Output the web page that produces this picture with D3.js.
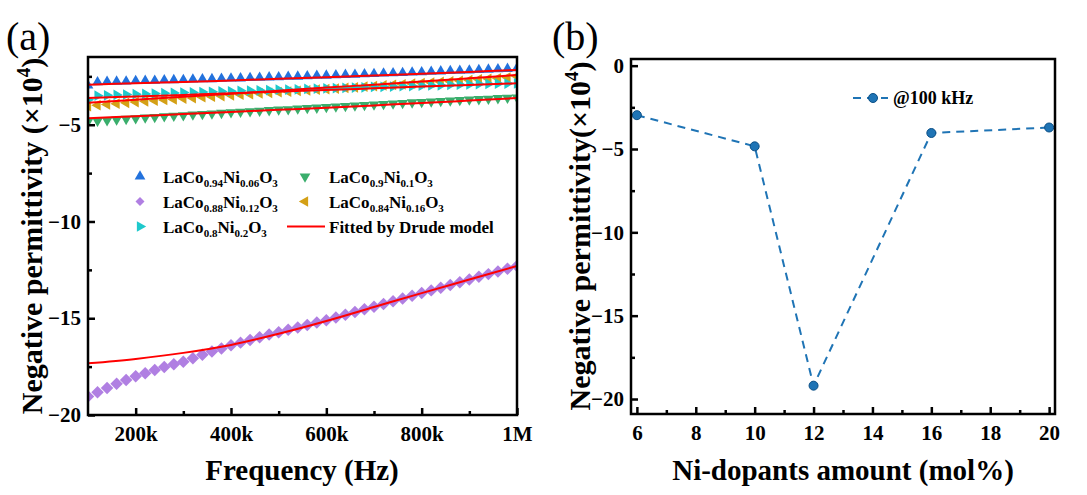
<!DOCTYPE html>
<html>
<head>
<meta charset="utf-8">
<script src="https://cdn.jsdelivr.net/npm/d3@7.9.0/dist/d3.min.js"></script>
<style>
  body { margin: 0; background: #fff; }
  svg text { font-family: "Liberation Serif", "Times New Roman", serif; }
</style>
</head>
<body>
<svg id="chart" width="1087" height="495"></svg>
<script>
// ---- data, panel (a): frequency in kHz, permittivity in 1e4 units
const freq = [100, 120, 140, 160, 180, 200, 220, 240, 260, 280, 300, 320, 340, 360, 380, 400,
  420, 440, 460, 480, 500, 520, 540, 560, 580, 600, 620, 640, 660, 680, 700, 720, 740, 760,
  780, 800, 820, 840, 860, 880, 900, 920, 940, 960, 980, 1000];

const ni006 = [-2.97, -2.80, -2.78, -2.77, -2.76, -2.74, -2.73, -2.72, -2.70, -2.69, -2.68, -2.66,
  -2.65, -2.64, -2.62, -2.61, -2.60, -2.58, -2.57, -2.55, -2.54, -2.52, -2.51, -2.49, -2.47, -2.46,
  -2.44, -2.42, -2.41, -2.39, -2.37, -2.35, -2.34, -2.32, -2.30, -2.28, -2.26, -2.24, -2.22, -2.21,
  -2.19, -2.17, -2.15, -2.13, -2.11, -2.08];
const ni01 = [-4.84, -4.80, -4.77, -4.73, -4.70, -4.67, -4.63, -4.60, -4.57, -4.54, -4.51, -4.48,
  -4.45, -4.42, -4.39, -4.36, -4.33, -4.31, -4.28, -4.25, -4.22, -4.20, -4.17, -4.14, -4.12, -4.09,
  -4.06, -4.04, -4.01, -3.98, -3.96, -3.93, -3.91, -3.88, -3.85, -3.83, -3.80, -3.78, -3.75, -3.73,
  -3.70, -3.68, -3.66, -3.63, -3.61, -3.60];
const ni012 = [-19.05, -18.82, -18.60, -18.39, -18.19, -18.00, -17.84, -17.68, -17.52, -17.38,
  -17.25, -17.07, -16.89, -16.72, -16.56, -16.40, -16.26, -16.12, -15.98, -15.84, -15.72, -15.60,
  -15.48, -15.35, -15.22, -15.10, -14.96, -14.82, -14.68, -14.54, -14.40, -14.26, -14.12, -13.98,
  -13.84, -13.70, -13.56, -13.42, -13.28, -13.14, -13.00, -12.86, -12.72, -12.58, -12.44, -12.30];
const ni016 = [-4.04, -3.99, -3.95, -3.91, -3.87, -3.83, -3.79, -3.76, -3.72, -3.69, -3.65, -3.62,
  -3.58, -3.55, -3.52, -3.48, -3.45, -3.42, -3.38, -3.35, -3.32, -3.29, -3.25, -3.22, -3.19, -3.16,
  -3.13, -3.10, -3.07, -3.03, -3.00, -2.97, -2.94, -2.91, -2.88, -2.85, -2.82, -2.79, -2.76, -2.73,
  -2.70, -2.66, -2.63, -2.60, -2.56, -2.50];
const ni02 = [-3.71, -3.50, -3.48, -3.46, -3.44, -3.42, -3.41, -3.39, -3.37, -3.36, -3.34, -3.33,
  -3.31, -3.30, -3.28, -3.27, -3.25, -3.24, -3.22, -3.21, -3.19, -3.18, -3.17, -3.15, -3.14, -3.12,
  -3.11, -3.10, -3.08, -3.07, -3.05, -3.04, -3.03, -3.01, -3.00, -2.98, -2.97, -2.96, -2.94, -2.93,
  -2.92, -2.90, -2.89, -2.88, -2.87, -2.86];

// Drude fits
const fitFreq = [100, 200, 300, 400, 500, 600, 700, 800, 900, 1000];
const fit006 = [-2.93, -2.86, -2.79, -2.71, -2.63, -2.55, -2.46, -2.37, -2.27, -2.17];
const fit01 = [-4.67, -4.56, -4.45, -4.34, -4.23, -4.12, -4.00, -3.88, -3.75, -3.62];
const fit012 = [-17.33, -17.10, -16.79, -16.38, -15.80, -15.14, -14.42, -13.70, -13.00, -12.30];
const fit016 = [-3.86, -3.71, -3.56, -3.40, -3.24, -3.08, -2.93, -2.77, -2.60, -2.43];
const fit02 = [-3.62, -3.54, -3.46, -3.37, -3.29, -3.20, -3.12, -3.03, -2.95, -2.86];

const xTicksA = [200, 400, 600, 800, 1000];
const xTickLabelsA = ['200k', '400k', '600k', '800k', '1M'];
const yTicksA = [-5, -10, -15, -20];

// ---- data, panel (b)
const niAmount = [6, 10, 12, 16, 20];
const perm100k = [-2.97, -4.84, -19.2, -4.04, -3.71];
const xTicksB = [6, 8, 10, 12, 14, 16, 18, 20];
const yTicksB = [0, -5, -10, -15, -20];

const series = [
  {name: [['LaCo'], ['0.94', 1], ['Ni'], ['0.06', 1], ['O'], ['3', 1]], data: ni006, fit: fit006, color: '#2372dd', rot: 0, shape: d3.symbolTriangle, size: 50},
  {name: [['LaCo'], ['0.9', 1], ['Ni'], ['0.1', 1], ['O'], ['3', 1]], data: ni01, fit: fit01, color: '#3aae6c', rot: 180, shape: d3.symbolTriangle, size: 50},
  {name: [['LaCo'], ['0.88', 1], ['Ni'], ['0.12', 1], ['O'], ['3', 1]], data: ni012, fit: fit012, color: '#b07fe2', rot: 45, shape: d3.symbolSquare, size: 78},
  {name: [['LaCo'], ['0.84', 1], ['Ni'], ['0.16', 1], ['O'], ['3', 1]], data: ni016, fit: fit016, color: '#d4a016', rot: -90, shape: d3.symbolTriangle, size: 50},
  {name: [['LaCo'], ['0.8', 1], ['Ni'], ['0.2', 1], ['O'], ['3', 1]], data: ni02, fit: fit02, color: '#1ec9cc', rot: 90, shape: d3.symbolTriangle, size: 50}
];

const svg = d3.select('#chart');
svg.append('rect').attr('width', 1087).attr('height', 495).attr('fill', '#fff');

// text with subscript parts: [string, 1] is lowered, others sit on the baseline
function subText(sel, parts, size, subSize, shift) {
  parts.forEach((p, i) => {
    const t = sel.append('tspan').text(p[0]);
    const prevSub = i > 0 && parts[i - 1][1];
    if (p[1]) {
      t.attr('font-size', subSize);
      if (!prevSub) t.attr('dy', shift);
    } else {
      t.attr('font-size', size);
      if (prevSub) t.attr('dy', -shift);
    }
  });
}

function frame(g, x, y) {
  const [x0, x1] = x.range();
  const [y1, y0] = y.range();
  g.append('rect').attr('x', x0).attr('y', y0).attr('width', x1 - x0).attr('height', y1 - y0)
    .attr('fill', 'none').attr('stroke', '#000').attr('stroke-width', 2.5);
}

function axes(g, x, y, xt, xfmt, xminor, yt, yminor) {
  const [x0] = x.range();
  const [y1] = y.range();
  const ax = g.append('g').attr('transform', `translate(0,${y1})`)
    .call(d3.axisBottom(x).tickValues(xt).tickFormat(xfmt).tickSize(-7).tickPadding(11));
  g.append('g').attr('transform', `translate(0,${y1})`)
    .call(d3.axisBottom(x).tickValues(xminor).tickFormat('').tickSize(-4));
  const ay = g.append('g').attr('transform', `translate(${x0},0)`)
    .call(d3.axisLeft(y).tickValues(yt).tickSize(-7).tickPadding(7));
  g.append('g').attr('transform', `translate(${x0},0)`)
    .call(d3.axisLeft(y).tickValues(yminor).tickFormat('').tickSize(-4));
  g.selectAll('.tick line').attr('stroke', '#000').attr('stroke-width', 2.5);
  g.selectAll('.domain').remove();
  [ax, ay].forEach(a => a.selectAll('text')
    .attr('font-family', '"Liberation Serif", serif').attr('font-weight', 'bold')
    .attr('font-size', 21).attr('fill', '#000'));
}

// ================= panel (a)
const xA = d3.scaleLinear().domain([100, 1000]).range([88, 517]);
const yA = d3.scaleLinear().domain([-20, -1.5]).range([415, 57]);
const gA = svg.append('g');

svg.append('clipPath').attr('id', 'clipA').append('rect')
  .attr('x', 88).attr('y', 57).attr('width', 429).attr('height', 358);

const plotA = gA.append('g').attr('clip-path', 'url(#clipA)');

series.forEach(s => {
  plotA.append('g').selectAll('path')
    .data(freq.map((f, i) => [f, s.data[i]]))
    .join('path')
    .attr('d', d3.symbol(s.shape, s.size))
    .attr('transform', d => `translate(${xA(d[0])},${yA(d[1])}) rotate(${s.rot})`)
    .attr('fill', s.color);
});

const fitLine = d3.line().x(d => xA(d[0])).y(d => yA(d[1])).curve(d3.curveCatmullRom);
series.forEach(s => {
  plotA.append('path')
    .attr('d', fitLine(fitFreq.map((f, i) => [f, s.fit[i]])))
    .attr('fill', 'none').attr('stroke', '#ff0000').attr('stroke-width', 2);
});

axes(gA, xA, yA, xTicksA, (d, i) => xTickLabelsA[i], [300, 500, 700, 900],
  yTicksA, [-2.5, -7.5, -12.5, -17.5]);
frame(gA, xA, yA);

// legend (a)
const legRows = [176.5, 201.5, 226.5];
const legCols = [[140, 163], [305, 329]];
const legPos = [[0, 0], [1, 0], [0, 1], [1, 1], [0, 2]];
series.forEach((s, si) => {
  const [c, r] = legPos[si];
  gA.append('path')
    .attr('d', d3.symbol(s.shape, s.shape === d3.symbolSquare ? 40 : 50))
    .attr('transform', `translate(${legCols[c][0]},${legRows[r]}) rotate(${s.rot})`)
    .attr('fill', s.color);
  const t = gA.append('text').attr('x', legCols[c][1]).attr('y', legRows[r] + 6)
    .attr('font-weight', 'bold').attr('fill', '#000');
  subText(t, s.name, 17, 11, 4);
});
gA.append('line').attr('x1', 287).attr('x2', 325).attr('y1', 226.5).attr('y2', 226.5)
  .attr('stroke', '#ff0000').attr('stroke-width', 2);
gA.append('text').attr('x', 329).attr('y', 232.5).attr('font-weight', 'bold')
  .attr('font-size', 17).text('Fitted by Drude model');

// titles (a)
gA.append('text').attr('x', 302).attr('y', 480).attr('text-anchor', 'middle')
  .attr('font-weight', 'bold').attr('font-size', 29).text('Frequency (Hz)');
const ytA = gA.append('text').attr('transform', 'translate(42,236) rotate(-90)')
  .attr('text-anchor', 'middle').attr('font-weight', 'bold').attr('font-size', 30);
ytA.append('tspan').text('Negative permittivity (×10');
ytA.append('tspan').text('4').attr('font-size', 19).attr('dy', -12);
ytA.append('tspan').text(')').attr('dy', 12);
gA.append('text').attr('x', 6).attr('y', 50).attr('font-size', 40).text('(a)');

// ================= panel (b)
const xB = d3.scaleLinear().domain([5.8, 20.2]).range([631, 1055]);
const yB = d3.scaleLinear().domain([-20.9, 0.4]).range([414, 59]);
const gB = svg.append('g');
const blue = '#1f74b5';

axes(gB, xB, yB, xTicksB, d3.format('d'), [7, 9, 11, 13, 15, 17, 19],
  yTicksB, [-2.5, -7.5, -12.5, -17.5]);

gB.append('path')
  .attr('d', d3.line().x(d => xB(d[0])).y(d => yB(d[1]))(niAmount.map((n, i) => [n, perm100k[i]])))
  .attr('fill', 'none').attr('stroke', blue).attr('stroke-width', 2)
  .attr('stroke-dasharray', '8,6');

gB.append('g').selectAll('circle')
  .data(niAmount.map((n, i) => [n, perm100k[i]]))
  .join('circle')
  .attr('cx', d => xB(d[0])).attr('cy', d => yB(d[1])).attr('r', 4.5)
  .attr('fill', blue).attr('stroke', '#0b4f86').attr('stroke-width', 1);

frame(gB, xB, yB);

// legend (b)
gB.append('line').attr('x1', 853).attr('x2', 888).attr('y1', 98).attr('y2', 98)
  .attr('stroke', blue).attr('stroke-width', 2).attr('stroke-dasharray', '8,6');
gB.append('circle').attr('cx', 873).attr('cy', 98).attr('r', 4.5)
  .attr('fill', blue).attr('stroke', '#0b4f86');
gB.append('text').attr('x', 893).attr('y', 104).attr('font-weight', 'bold')
  .attr('font-size', 18).text('@100 kHz');

// titles (b)
gB.append('text').attr('x', 843).attr('y', 480).attr('text-anchor', 'middle')
  .attr('font-weight', 'bold').attr('font-size', 29).text('Ni-dopants amount (mol%)');
const ytB = gB.append('text').attr('transform', 'translate(590,236) rotate(-90)')
  .attr('text-anchor', 'middle').attr('font-weight', 'bold').attr('font-size', 30);
ytB.append('tspan').text('Negative permittivity(×10');
ytB.append('tspan').text('4').attr('font-size', 19).attr('dy', -12);
ytB.append('tspan').text(')').attr('dy', 12);
gB.append('text').attr('x', 552).attr('y', 50).attr('font-size', 40).text('(b)');
</script>
</body>
</html>
